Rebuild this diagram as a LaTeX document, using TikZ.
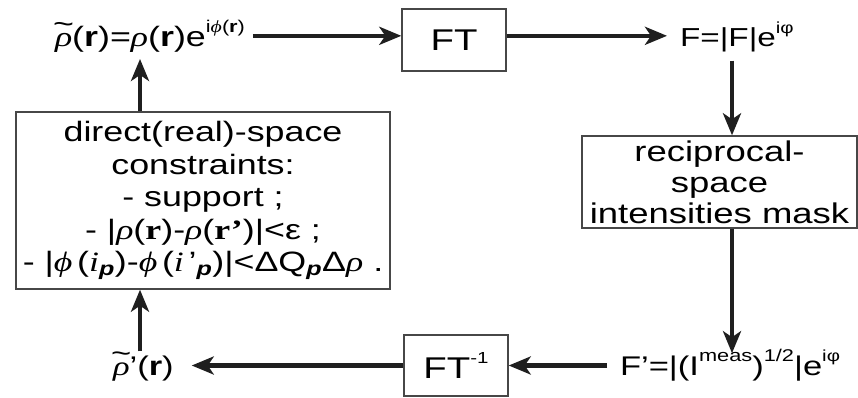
\documentclass[tikz,border=0pt]{standalone}
\usepackage{fontspec}
\setmainfont{Liberation Sans}[FakeStretch=1.28]
\newfontfamily\grkfont{Liberation Serif}[FakeStretch=1.28]
\usetikzlibrary{arrows.meta}
% italic / bold serif letters for the symbols
\newcommand\gi[1]{{\grkfont\itshape #1}}
\newcommand\gb[1]{{\grkfont\bfseries #1}}
% wide tilde set over a letter
\newcommand\tld[1]{\ooalign{#1\cr\hidewidth\raisebox{0.46em}{\char"007E}\hidewidth\cr}}
% raised small text (exponents)
\newcommand\upsc[2][15]{\raisebox{0.5em}{\fontsize{#1}{#1}\selectfont #2}}
\newcommand\subp{\textsubscript{\textbf{\textit{p}}}}

\begin{document}
\begin{tikzpicture}[x=1pt,y=-1pt,
  arr/.style={line width=4.2pt, draw=black!88,
              -{Stealth[length=22pt,width=18pt,inset=6pt]}},
  box/.style={draw=black!72, line width=1.4pt, inner sep=0pt, align=center},
  lbl/.style={inner sep=0pt, outer sep=0pt},
]
\useasboundingbox (0,0) rectangle (858,397);

% vertical lanes of the up and down connectors
\coordinate (colL) at (140,0);
\coordinate (colR) at (732,0);

% top row
\node[lbl, anchor=base west, font=\fontsize{28}{30}\selectfont] (rho) at (55,46)
  {\tld{\gi{ρ}}(\textbf{r})=\gi{ρ}(\textbf{r})e\upsc[17]{i\gi{ϕ}(\textbf{r})}};
\node[box, minimum width=104pt, minimum height=62pt,
      font=\fontsize{30}{30}\selectfont] (ft) at (454,40) {FT};
\node[lbl, anchor=base west, font=\fontsize{26}{30}\selectfont] (F) at (680,46)
  {F=|F|e\upsc[16]{iφ}};

% right column
\node[box, minimum width=275pt, minimum height=92pt,
      font=\fontsize{28.5}{31}\selectfont] (rec) at (719.5,182)
  {reciprocal-\\space\\intensities mask};

% bottom row
\node[lbl, anchor=base west, font=\fontsize{27}{30}\selectfont] (Fp) at (620,375)
  {F’=|(I\upsc[17]{meas})\upsc[17]{1/2}|e\upsc[16]{iφ}};
\node[box, minimum width=104pt, minimum height=61pt,
      font=\fontsize{30}{30}\selectfont] (fti) at (456,365.5) {FT\upsc[16]{-1}};
\node[lbl, anchor=base west, font=\fontsize{27}{30}\selectfont] (rhop) at (113,375)
  {\tld{\gi{ρ}}’(\textbf{r})};

% left column
\node[box, minimum width=374pt, minimum height=177pt,
      font=\fontsize{28}{32.5}\selectfont] (dir) at (203,200.5)
  {direct(real)-space\\constraints:\\- support ;\\
   - |\gi{ρ}(\gb{r})-\gi{ρ}(\gb{r’})|<ε ;\\
   - |\gi{ϕ}\,(\gi{i}\subp)-\gi{ϕ}\,(\gi{i}\,’\subp)|<ΔQ\subp Δ\gi{ρ} .};

% connectors of the loop
\draw[arr, shorten <=8pt] (rho.east) -- (rho.east -| ft.west);
\draw[arr, shorten >=13pt] (ft.east |- rho.east) -- (rho.east -| F.west);
\draw[arr, shorten <=9pt] (colR |- F.south) -- (colR |- rec.north);
\draw[arr, shorten >=-4pt] (colR |- rec.south) -- (colR |- Fp.north);
\draw[arr, shorten <=13pt] (Fp.west |- fti.east) -- (fti.east);
\draw[arr, shorten >=18pt] (fti.west) -- (fti.west -| rhop.east);
\draw[arr, shorten <=4pt] (colL |- rhop.north) -- (colL |- dir.south);
\draw[arr, shorten >=7pt] (colL |- dir.north) -- (colL |- rho.south);
\end{tikzpicture}
\end{document}
